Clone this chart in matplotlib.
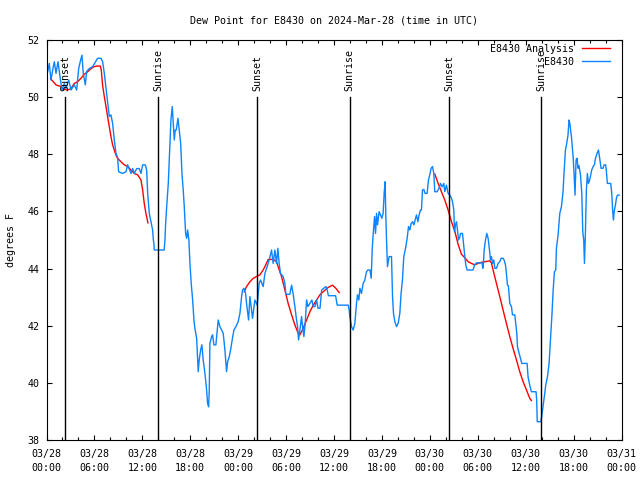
import numpy as np
import matplotlib
matplotlib.use("Agg")
import matplotlib.pyplot as plt
from matplotlib.ticker import MultipleLocator

plt.rcParams['font.family'] = ['DejaVu Sans Mono']
plt.rcParams['font.size'] = 7.2

# hours since 2024-03-28 00:00 UTC, dew point in F
obs_hours = [0.15, 0.35, 0.56, 0.85, 0.98, 1.19, 1.44, 1.69, 1.94, 2.23, 2.44, 2.78, 3.07, 3.48, 3.78,
             4.03, 4.23, 4.44, 4.60, 4.86, 5.03, 5.36, 5.78, 6.40, 6.82, 7.03, 7.24, 7.53, 7.86, 8.07,
             8.28, 8.49, 8.70, 8.90, 9.03, 9.54, 9.95, 10.16, 10.58, 10.79, 10.99, 11.29, 11.61, 11.83,
             12.04, 12.37, 12.54, 12.67, 12.87, 13.08, 13.29, 13.37, 13.45, 13.49, 14.74, 14.83, 14.92,
             15.05, 15.25, 15.46, 15.58, 15.75, 15.87, 16.00, 16.12, 16.25, 16.46, 16.62, 16.80, 16.96,
             17.12, 17.25, 17.42, 17.55, 17.67, 17.83, 17.96, 18.12, 18.30, 18.46, 18.58, 18.80, 19.00,
             19.12, 19.30, 19.46, 19.62, 19.84, 20.05, 20.17, 20.30, 20.38, 20.46, 20.68, 20.80, 20.96,
             21.21, 21.38, 21.50, 21.71, 21.93, 22.13, 22.34, 22.55, 22.68, 22.88, 23.05, 23.25, 23.47,
             23.72, 24.00, 24.22, 24.43, 24.55, 24.72, 24.93, 25.05, 25.18, 25.30, 25.47, 25.80, 26.09,
             26.38, 26.63, 26.80, 27.13, 27.35, 27.63, 27.88, 28.18, 28.38, 28.60, 28.80, 28.97, 29.13,
             29.30, 29.64, 29.85, 29.97, 30.47, 30.69, 30.89, 31.10, 31.31, 31.44, 31.56, 31.73, 31.94,
             32.06, 32.23, 32.39, 32.57, 32.73, 32.98, 33.23, 33.40, 33.61, 33.82, 34.00, 34.25, 34.45,
             34.73, 34.98, 35.15, 35.30, 36.20, 36.40, 37.78, 37.90, 37.98, 38.19, 38.40, 38.61, 38.82,
             38.94, 39.11, 39.24, 39.44, 39.65, 39.86, 40.07, 40.24, 40.50, 40.66, 40.78, 40.90, 41.08,
             41.20, 41.33, 41.45, 41.65, 41.82, 41.99, 42.15, 42.28, 42.40, 42.49, 42.62, 42.70, 42.83,
             42.90, 43.20, 43.33, 43.45, 43.62, 43.83, 44.03, 44.24, 44.40, 44.57, 44.74, 44.96, 45.16,
             45.33, 45.50, 45.66, 45.84, 46.00, 46.16, 46.33, 46.50, 46.66, 46.83, 46.95, 47.08, 47.25,
             47.41, 47.66, 47.83, 47.99, 48.16, 48.33, 48.50, 48.62, 48.91, 49.12, 49.33, 49.53, 49.75,
             49.87, 50.08, 50.29, 50.50, 50.71, 50.84, 51.00, 51.09, 51.21, 51.34, 51.46, 51.59, 51.75,
             51.84, 52.09, 52.25, 52.38, 52.50, 52.67, 53.42, 53.60, 53.84, 54.26, 54.55, 54.63, 54.72,
             54.80, 54.97, 55.13, 55.30, 55.47, 55.59, 55.72, 55.85, 56.01, 56.14, 56.35, 56.55, 56.76,
             56.92, 57.17, 57.30, 57.47, 57.59, 57.72, 57.84, 58.01, 58.22, 58.35, 58.64, 58.76, 58.89,
             58.97, 59.18, 59.35, 59.51, 60.18, 60.30, 60.51, 60.72, 61.30, 61.38, 61.45, 61.89, 62.01,
             62.18, 62.39, 62.51, 62.73, 62.93, 63.10, 63.30, 63.43, 63.60, 63.77, 63.85, 64.06, 64.27,
             64.48, 64.68, 64.80, 64.98, 65.14, 65.30, 65.43, 65.52, 65.73, 65.94, 66.06, 66.18, 66.31,
             66.43, 66.56, 66.68, 66.86, 67.03, 67.15, 67.27, 67.36, 67.48, 67.60, 67.73, 67.86, 68.02,
             68.15, 68.27, 68.44, 68.61, 68.74, 68.94, 69.11, 69.27, 69.44, 69.69, 69.81, 70.02, 70.11,
             70.23, 70.65, 70.78, 70.90, 70.99, 71.11, 71.24, 71.36, 71.49, 71.70]
obs_dewpt = [50.89, 51.18, 50.60, 51.07, 51.24, 50.83, 51.24, 50.72, 50.25, 50.48, 50.30, 50.60, 50.25, 50.43, 50.25,
             51.00, 51.25, 51.47, 50.83, 50.43, 50.90, 51.00, 51.07, 51.36, 51.36, 51.24, 50.83, 50.13, 49.32, 49.38,
             49.08, 48.50, 48.03, 47.90, 47.39, 47.33, 47.39, 47.63, 47.33, 47.50, 47.33, 47.50, 47.50, 47.33,
             47.63, 47.63, 47.45, 46.63, 45.93, 45.64, 45.35, 45.02, 44.88, 44.65, 44.65, 45.00, 45.58,
             46.17, 46.98, 48.38, 49.20, 49.67, 49.08, 48.50, 48.85, 48.85, 49.26, 48.85, 48.38, 47.33,
             46.75, 46.17, 45.23, 45.06, 45.35, 45.00, 44.18, 43.48, 42.90, 42.20, 41.91, 41.56, 40.39,
             40.80, 41.15, 41.33, 40.80, 40.33, 39.75, 39.28, 39.16, 39.75, 41.38, 41.62, 41.68, 41.33,
             41.33, 41.85, 42.20, 41.97, 41.85, 41.73, 41.15, 40.39, 40.74, 40.91, 41.15, 41.50, 41.85,
             41.97, 42.14, 42.43, 43.02, 43.25, 43.31, 43.13, 42.78, 42.49, 42.20, 43.02, 42.26, 42.90,
             42.72, 43.48, 43.60, 43.37, 43.83, 44.07, 44.30, 44.65, 44.18, 44.65, 44.18, 44.71, 44.18,
             43.83, 43.72, 43.48, 43.10, 43.10, 43.42, 43.10, 42.67, 42.20, 41.97, 41.50, 41.85, 42.32,
             41.97, 41.62, 42.08, 42.90, 42.67, 42.78, 42.90, 42.67, 42.67, 42.90, 42.61, 42.61, 43.25,
             43.31, 43.37, 43.25, 43.05, 43.05, 42.72, 42.72, 42.55, 42.32, 41.97, 41.85, 42.08, 42.78,
             43.08, 42.90, 43.31, 43.13, 43.48, 43.60, 43.89, 43.95, 43.95, 43.66, 44.65, 45.18, 45.82,
             45.23, 45.93, 45.53, 45.99, 45.88, 45.76, 45.93, 46.63, 47.04, 45.82, 44.65, 44.07, 44.30,
             44.42, 44.42, 43.02, 42.43, 42.14, 41.97, 42.08, 42.43, 43.13, 43.60, 44.42, 44.71, 45.06,
             45.47, 45.35, 45.58, 45.64, 45.53, 45.70, 45.88, 45.64, 45.88, 46.05, 46.05, 46.75, 46.77,
             46.63, 46.63, 47.10, 47.28, 47.51, 47.57, 47.33, 46.69, 46.69, 46.80, 46.98, 46.86, 46.98,
             46.69, 46.92, 46.63, 46.57, 46.46, 46.34, 46.05, 45.29, 45.53, 45.64, 45.35, 45.00, 45.10,
             45.23, 45.23, 44.77, 44.42, 44.13, 43.95, 43.95, 44.13, 44.20, 44.20, 44.20, 44.01, 44.20,
             44.65, 45.00, 45.23, 45.06, 44.65, 44.30, 44.42, 44.18, 44.30, 44.01, 44.01, 44.18, 44.24,
             44.36, 44.36, 44.30, 44.13, 43.83, 43.42, 43.40, 42.78, 42.67, 42.38, 42.38, 42.08, 41.73,
             41.27, 41.03, 40.86, 40.68, 40.68, 40.21, 39.92, 39.69, 39.69, 39.40, 38.64, 38.64, 38.82,
             39.17, 39.63, 39.92, 40.21, 40.68, 41.50, 42.43, 43.19, 43.89, 43.95, 44.71, 45.18, 45.93,
             46.17, 46.69, 47.33, 48.15, 48.38, 48.67, 49.20, 49.10, 48.62, 47.92, 47.33, 46.57, 47.80,
             47.86, 47.51, 47.60, 47.28, 46.63, 45.29, 45.00, 44.18, 45.23, 46.75, 47.33, 46.98, 47.10,
             47.28, 47.45, 47.57, 47.63, 47.86, 48.03, 48.15, 47.86, 47.51, 47.51, 47.63, 47.63, 47.39,
             46.98, 46.98, 46.63, 45.99, 45.70, 46.05, 46.22, 46.46, 46.57, 46.57]

# analysis curve (nan = gap between segments)
ana_hours = [0.50, 1.19, 1.81, 2.23, 2.65, 3.07, 3.48, 3.90, 4.32, 4.73, 5.16, 5.57, 5.98, 6.40, 6.73,
             6.86, 7.03, 7.24, 7.45, 7.65, 7.86, 8.07, 8.28, 8.49, 8.70, 8.90, 9.32, 9.74, 10.16, 10.58,
             10.99, 11.41, 11.83, 12.04, 12.24, 12.45, 12.70, np.nan,
             24.76, 25.05, 25.47, 25.89, 26.30, 26.72, 27.13, 27.35, 27.76, 28.39, 28.80, 29.00, 29.43,
             29.85, 30.26, 30.69, 31.10, 31.52, 31.73, 32.14, 32.57, 32.98, 33.40, 33.82, 34.23, 34.65,
             35.27, 35.82, 36.23, 36.65, np.nan,
             48.62, 49.04, 49.45, 49.87, 50.29, 50.71, 51.13, 51.54, 51.96, 52.38, 52.79, 53.22, 53.63,
             54.05, 54.47, 54.88, 55.50, 55.71, 55.92, 56.34, 56.76, 57.17, 57.59, 58.01, 58.42, 58.85,
             59.26, 59.68, 60.10, 60.51, 60.72]
ana_dewpt = [50.65, 50.43, 50.37, 50.27, 50.25, 50.30, 50.48, 50.54, 50.66, 50.80, 50.89, 51.00, 51.07, 51.09, 51.09,
             50.95, 50.40, 50.02, 49.67, 49.32, 48.97, 48.62, 48.33, 48.15, 47.97, 47.86, 47.74, 47.63, 47.57, 47.45,
             47.33, 47.28, 47.10, 46.75, 46.28, 45.93, 45.60, np.nan,
             43.19, 43.37, 43.54, 43.66, 43.72, 43.78, 43.95, 44.07, 44.32, 44.32, 44.24, 44.07, 43.72,
             43.25, 42.78, 42.38, 42.03, 41.73, 41.68, 41.91, 42.20, 42.49, 42.72, 42.90, 43.08, 43.19,
             43.34, 43.42, 43.31, 43.16, np.nan,
             47.31, 46.98, 46.69, 46.40, 46.05, 45.64, 45.30, 44.85, 44.50, 44.38, 44.24, 44.18, 44.13,
             44.18, 44.22, 44.24, 44.27, 44.20, 43.95, 43.48, 43.02, 42.55, 42.08, 41.62, 41.21, 40.80,
             40.39, 40.04, 39.75, 39.46, 39.38]

sunset_hours = [2.32, 26.38, 50.41]
sunrise_hours = [13.98, 37.95, 61.92]

tick_hours = list(range(0, 73, 6))
tick_labels = ['03/28\n00:00', '03/28\n06:00', '03/28\n12:00', '03/28\n18:00',
               '03/29\n00:00', '03/29\n06:00', '03/29\n12:00', '03/29\n18:00',
               '03/30\n00:00', '03/30\n06:00', '03/30\n12:00', '03/30\n18:00',
               '03/31\n00:00']

fig = plt.figure(figsize=(6.4, 4.8), dpi=100)
ax = fig.add_axes([46.5 / 640, 40 / 480, 575 / 640, 400 / 480])

ax.plot(ana_hours, ana_dewpt, color='red', lw=1.0, label='E8430 Analysis')
ax.plot(obs_hours, obs_dewpt, color='#0a84ff', lw=1.0, label='E8430')

for h in sunset_hours:
    ax.plot([h, h], [38, 50], color='black', lw=1.0)
    ax.text(h, 50.2, 'Sunset', rotation=90, ha='center', va='bottom')
for h in sunrise_hours:
    ax.plot([h, h], [38, 50], color='black', lw=1.0)
    ax.text(h, 50.2, 'Sunrise', rotation=90, ha='center', va='bottom')

ax.set_xlim(0, 72)
ax.set_ylim(38, 52)
ax.set_xticks(tick_hours)
ax.set_xticklabels(tick_labels, linespacing=1.45)
ax.xaxis.set_minor_locator(MultipleLocator(2))
ax.set_yticks(range(38, 53, 2))
ax.tick_params(which='both', direction='in', top=True, right=True, width=0.8)
ax.tick_params(which='major', length=3.6, pad=5)
ax.tick_params(axis='x', which='major', pad=6.5)
ax.tick_params(which='minor', length=2.0)
for s in ax.spines.values():
    s.set_linewidth(0.8)

ax.set_title('Dew Point for E8430 on 2024-Mar-28 (time in UTC)', fontsize=7.2, pad=12)
ax.set_ylabel('degrees F', labelpad=8)

ax.legend(loc='upper right', bbox_to_anchor=(0.98, 0.99), frameon=False, markerfirst=False,
          handlelength=2.8, handletextpad=0.8, borderpad=0, borderaxespad=0, labelspacing=0.3)

fig.savefig('out.png', dpi=100)
